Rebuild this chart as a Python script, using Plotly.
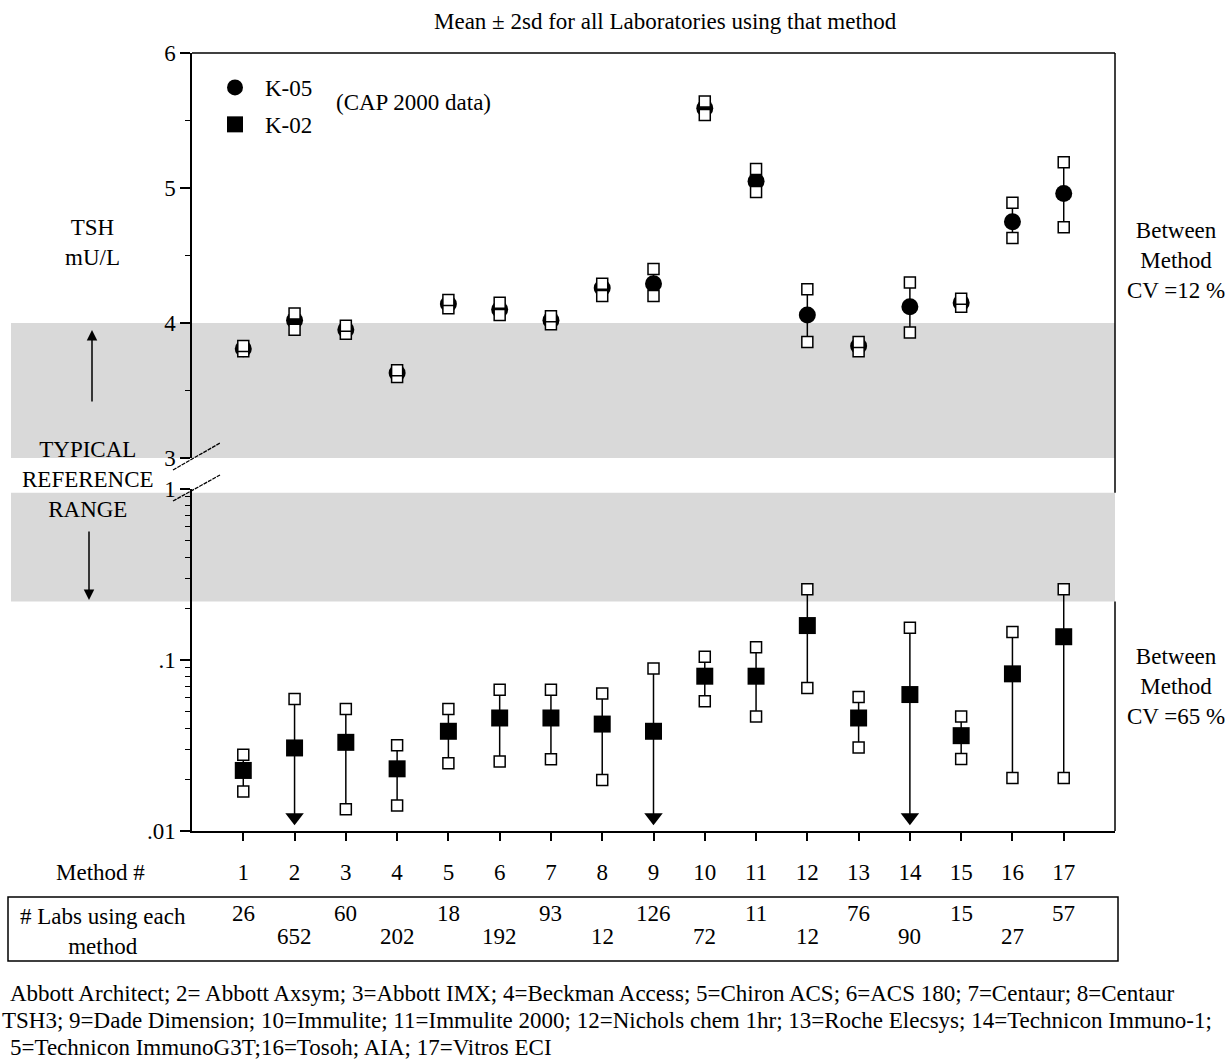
import math
import plotly.graph_objects as go

# ---------------- data ----------------
methods = list(range(1, 18))
method_labels = [str(m) for m in methods]

# K-05 (upper panel, linear TSH mU/L): mean and mean +/- 2sd
k05_mean = [3.81, 4.02, 3.95, 3.63, 4.14, 4.10, 4.02, 4.26, 4.29, 5.59, 5.05, 4.06, 3.83, 4.12, 4.15, 4.75, 4.96]
k05_hi = [3.83, 4.07, 3.98, 3.65, 4.17, 4.15, 4.05, 4.29, 4.40, 5.64, 5.14, 4.25, 3.86, 4.30, 4.18, 4.89, 5.19]
k05_lo = [3.79, 3.95, 3.92, 3.60, 4.11, 4.06, 3.99, 4.20, 4.20, 5.54, 4.97, 3.86, 3.79, 3.93, 4.12, 4.63, 4.71]

# K-02 (lower panel, log TSH mU/L); None = lower limit below .01 (arrow)
k02_mean = [0.0226, 0.0306, 0.0330, 0.0231, 0.0383, 0.0458, 0.0458, 0.0422, 0.0383, 0.0804, 0.0804, 0.159, 0.0458, 0.0628, 0.0361, 0.0830, 0.1368]
k02_hi = [0.0279, 0.0592, 0.0517, 0.0317, 0.0517, 0.0671, 0.0671, 0.0636, 0.0891, 0.1045, 0.1189, 0.259, 0.0608, 0.1545, 0.0468, 0.146, 0.259]
k02_lo = [0.0170, None, 0.0134, 0.0141, 0.0249, 0.0255, 0.0263, 0.0199, None, 0.0573, 0.0468, 0.0687, 0.0308, None, 0.0264, 0.0204, 0.0204]

labs_per_method = [26, 652, 60, 202, 18, 192, 93, 12, 126, 72, 11, 12, 76, 90, 15, 27, 57]

upper_ticks = [3, 4, 5, 6]
upper_tick_text = ["3", "4", "5", "6"]
lower_ticks = [0.01, 0.1, 1]
lower_tick_text = [".01", ".1", "1"]

ref_upper = [3.0, 4.0]      # typical reference range, upper panel portion
ref_lower = [0.22, 0.95]    # typical reference range, lower panel portion

footnotes = [
    "Abbott Architect; 2= Abbott Axsym; 3=Abbott IMX; 4=Beckman Access; 5=Chiron ACS; 6=ACS 180; 7=Centaur; 8=Centaur",
    "TSH3; 9=Dade Dimension; 10=Immulite; 11=Immulite 2000; 12=Nichols chem 1hr; 13=Roche Elecsys; 14=Technicon Immuno-1;",
    "5=Technicon ImmunoG3T;16=Tosoh; AIA; 17=Vitros ECI",
]

# ---------------- geometry ----------------
W, H = 1229, 1061
L, R, T, B = 192, 114, 53, 230
PW, PH = W - L - R, H - T - B
FONT = "Liberation Serif, Times New Roman, serif"
FS = 23


def px_x(px):
    return (px - L) / PW


def px_y(py):
    return (H - B - py) / PH


UP_RANGE = [3, 6]
LOG_RANGE = [-2, 0]
up_dom = [px_y(458), 1.0]
low_dom = [0.0, px_y(489)]


def up_paper(v):
    return up_dom[0] + (v - UP_RANGE[0]) / (UP_RANGE[1] - UP_RANGE[0]) * (up_dom[1] - up_dom[0])


def low_paper(v):
    return low_dom[0] + (math.log10(v) - LOG_RANGE[0]) / (LOG_RANGE[1] - LOG_RANGE[0]) * (low_dom[1] - low_dom[0])


ARROW_Y = 10 ** (LOG_RANGE[0] + 0.08)

fig = go.Figure()

# upper error lines
ex, ey = [], []
for m, lo, hi in zip(methods, k05_lo, k05_hi):
    ex += [m, m, None]
    ey += [lo, hi, None]
fig.add_trace(go.Scatter(x=ex, y=ey, mode="lines", line=dict(color="black", width=1.5),
                         yaxis="y2", showlegend=False, hoverinfo="skip"))
# upper means
fig.add_trace(go.Scatter(x=methods, y=k05_mean, mode="markers", name="K-05",
                         marker=dict(symbol="circle", size=17, color="black"),
                         yaxis="y2", legendgroup="a", legendrank=1))
# upper +/- 2sd squares
fig.add_trace(go.Scatter(x=methods + methods, y=k05_lo + k05_hi, mode="markers",
                         marker=dict(symbol="square", size=11, color="white",
                                     line=dict(color="black", width=1.5)),
                         yaxis="y2", showlegend=False))

# lower error lines
ex, ey = [], []
for m, lo, hi in zip(methods, k02_lo, k02_hi):
    ex += [m, m, None]
    ey += [lo if lo is not None else ARROW_Y, hi, None]
fig.add_trace(go.Scatter(x=ex, y=ey, mode="lines", line=dict(color="black", width=1.5),
                         yaxis="y", showlegend=False, hoverinfo="skip"))
# arrows for lower limits below .01
arr_x = [m for m, lo in zip(methods, k02_lo) if lo is None]
fig.add_trace(go.Scatter(x=arr_x, y=[ARROW_Y] * len(arr_x), mode="markers",
                         marker=dict(symbol="triangle-down", size=16, color="black"),
                         yaxis="y", showlegend=False))
# lower squares (+/- 2sd)
sq_x = methods + [m for m, lo in zip(methods, k02_lo) if lo is not None]
sq_y = k02_hi + [lo for lo in k02_lo if lo is not None]
fig.add_trace(go.Scatter(x=sq_x, y=sq_y, mode="markers",
                         marker=dict(symbol="square", size=11, color="white",
                                     line=dict(color="black", width=1.5)),
                         yaxis="y", showlegend=False))
# lower means
fig.add_trace(go.Scatter(x=methods, y=k02_mean, mode="markers", name="K-02",
                         marker=dict(symbol="square", size=17, color="black"),
                         yaxis="y", legendgroup="b", legendrank=2))

# ---------------- shapes ----------------
shapes = []
gray = "#d9d9d9"
shapes.append(dict(type="rect", xref="paper", yref="paper", x0=px_x(11), x1=1,
                   y0=up_paper(ref_upper[0]), y1=up_paper(ref_upper[1]),
                   fillcolor=gray, line=dict(width=0), layer="below"))
shapes.append(dict(type="rect", xref="paper", yref="paper", x0=px_x(11), x1=1,
                   y0=low_paper(ref_lower[0]), y1=low_paper(ref_lower[1]),
                   fillcolor=gray, line=dict(width=0), layer="below"))
# frame: top and right
shapes.append(dict(type="line", xref="paper", yref="paper", x0=0, x1=1, y0=1, y1=1,
                   line=dict(color="black", width=1.5)))
shapes.append(dict(type="line", xref="paper", yref="paper", x0=1, x1=1,
                   y0=low_paper(ref_lower[1]), y1=1, line=dict(color="black", width=1.5)))
shapes.append(dict(type="line", xref="paper", yref="paper", x0=1, x1=1,
                   y0=0, y1=low_paper(ref_lower[0]), line=dict(color="black", width=1.5)))
# axis break marks
for (xa, ya, xb, yb) in [(173, 470, 220, 443), (173, 501, 220, 475)]:
    shapes.append(dict(type="line", xref="paper", yref="paper",
                       x0=px_x(xa), y0=px_y(ya), x1=px_x(xb), y1=px_y(yb),
                       line=dict(color="black", width=1.3, dash="4px,1px")))
# labs box
shapes.append(dict(type="rect", xref="paper", yref="paper", x0=px_x(8), x1=px_x(1118),
                   y0=px_y(961), y1=px_y(897), line=dict(color="black", width=1.5),
                   fillcolor="rgba(0,0,0,0)"))

# ---------------- annotations ----------------
ann = []


def text(px, py, s, xanchor="center"):
    ann.append(dict(x=px_x(px), y=px_y(py), xref="paper", yref="paper", text=s,
                    showarrow=False, xanchor=xanchor, yanchor="middle",
                    font=dict(family=FONT, size=FS, color="black")))


text(665, 22, "Mean ± 2sd for all Laboratories using that method")
text(334, 102, "(CAP 2000 data)", "left")
text(92, 243, "TSH<br>mU/L")
text(88, 480, "TYPICAL<br>REFERENCE<br>RANGE")
text(1176, 260, "Between<br>Method<br>CV =12 %")
text(1176, 686, "Between<br>Method<br>CV =65 %")
text(100, 872, "Method #")
text(103, 932, "# Labs using each<br>method")
for i, line in enumerate(footnotes):
    text([8, 0, 8][i], 993 + 27 * i, line, "left")

for i, (m, n) in enumerate(zip(methods, labs_per_method)):
    ann.append(dict(x=m, y=px_y(913 if i % 2 == 0 else 937), xref="x", yref="paper",
                    text=str(n), showarrow=False, xanchor="center", yanchor="middle",
                    font=dict(family=FONT, size=FS, color="black")))

# reference range arrows
ann.append(dict(x=px_x(92), y=px_y(330), xref="paper", yref="paper", text="",
                showarrow=True, ax=0, ay=73, arrowhead=2, arrowsize=1.4,
                arrowwidth=1.5, arrowcolor="black"))
ann.append(dict(x=px_x(89), y=px_y(600), xref="paper", yref="paper", text="",
                showarrow=True, ax=0, ay=-70, arrowhead=2, arrowsize=1.4,
                arrowwidth=1.5, arrowcolor="black"))

tickfont = dict(family=FONT, size=FS, color="black")

fig.update_layout(
    width=W, height=H,
    margin=dict(l=L, r=R, t=T, b=B, pad=0),
    paper_bgcolor="white", plot_bgcolor="rgba(0,0,0,0)",
    showlegend=True,
    legend=dict(x=px_x(205), y=px_y(66), xanchor="left", yanchor="top",
                font=dict(family=FONT, size=FS, color="black"),
                bgcolor="rgba(0,0,0,0)", itemwidth=50, tracegroupgap=4,
                traceorder="grouped"),
    xaxis=dict(range=[0, 18], tickmode="array", tickvals=methods, ticktext=method_labels,
               ticks="outside", ticklen=8, tickwidth=1.5, tickcolor="black",
               showline=True, linecolor="black", linewidth=1.5, showgrid=False,
               zeroline=False, anchor="y", tickfont=tickfont, ticklabelstandoff=12),
    yaxis=dict(type="log", range=LOG_RANGE, domain=low_dom, tickmode="array",
               tickvals=lower_ticks, ticktext=lower_tick_text, ticks="outside",
               ticklen=10, tickwidth=1.5, tickcolor="black", showline=True,
               linecolor="black", linewidth=1.5, showgrid=False, zeroline=False,
               tickfont=tickfont, anchor="x",
               minor=dict(tickmode="array",
                          tickvals=[k * 0.01 for k in range(2, 10)] + [k * 0.1 for k in range(2, 10)],
                          ticks="outside", ticklen=5, tickwidth=1.2, tickcolor="black",
                          showgrid=False)),
    yaxis2=dict(range=UP_RANGE, domain=up_dom, tickmode="array", tickvals=upper_ticks,
                ticktext=upper_tick_text, ticks="outside", ticklen=10, tickwidth=1.5,
                tickcolor="black", showline=True, linecolor="black", linewidth=1.5,
                showgrid=False, zeroline=False, tickfont=tickfont, anchor="x",
                minor=dict(tickmode="array", tickvals=[3.5, 4.5, 5.5], ticks="outside",
                           ticklen=5, tickwidth=1.2, tickcolor="black", showgrid=False)),
    shapes=shapes,
    annotations=ann,
)

fig.write_html("out.html", config={"displayModeBar": False},
               post_script="document.body.style.margin='0px';document.body.style.overflow='hidden';")
